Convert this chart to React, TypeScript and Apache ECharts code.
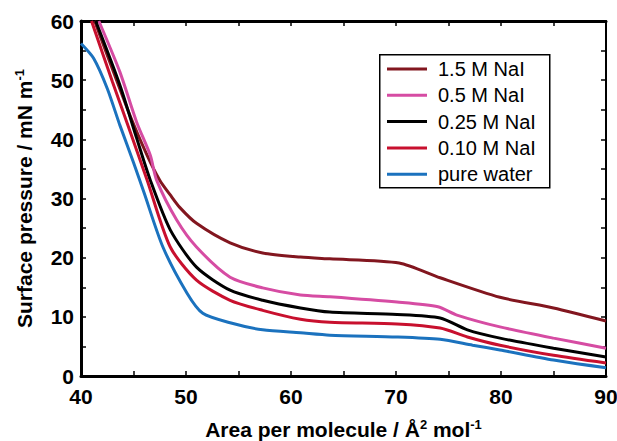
import React, { useEffect, useRef } from "react";
import * as echarts from "echarts";

const seriesNames = ["1.5 M NaI", "0.5 M NaI", "0.25 M NaI", "0.10 M NaI", "pure water"];
const seriesColors = ["#82161f", "#d64ca3", "#000000", "#c8102e", "#1b72be"];

const area15 = [41.3, 44.5, 46.3, 47.5, 48.5, 49.4, 51.0, 54.2, 57.3, 60.9, 63.7, 70.3, 74.2, 79.9, 85, 90];
const pressure15 = [60, 44.8, 37.3, 33.1, 30.6, 28.5, 25.8, 22.5, 20.8, 20.1, 19.8, 19.1, 16.6, 13.3, 11.5, 9.3];

const area05 = [41.7, 43.7, 45.3, 46.6, 47.2, 49.1, 51.0, 54.2, 57.3, 60.9, 63.7, 70.1, 74.0, 75.8, 79.9, 85, 90];
const pressure05 = [60, 51.4, 42.9, 37.3, 33.1, 26.4, 21.8, 16.7, 14.9, 13.7, 13.4, 12.5, 11.7, 10.3, 8.3, 6.4, 4.7];

const area025 = [41.4, 43.7, 45.3, 46.6, 48.5, 51.0, 54.2, 57.3, 60.9, 63.7, 70.1, 74.2, 76.8, 79.9, 85, 90];
const pressure025 = [60, 49.2, 40.2, 33.1, 24.7, 18.4, 14.5, 12.8, 11.5, 10.8, 10.4, 9.8, 7.8, 6.4, 4.7, 3.2];

const area010 = [41.0, 43.0, 44.7, 46.3, 48.5, 51.0, 54.2, 57.3, 60.9, 63.7, 70.1, 74.2, 76.8, 79.9, 85, 90];
const pressure010 = [60, 49.7, 41.2, 33.1, 21.8, 16.2, 12.8, 11.1, 9.6, 9.1, 8.8, 8.1, 6.6, 5.2, 3.5, 2.2];

const areaWater = [40, 41.2, 42.5, 43.7, 45.0, 46.0, 47.8, 50.1, 51.6, 54.2, 57.3, 60.9, 63.7, 70.1, 74.2, 77.3, 79.9, 85, 90];
const pressureWater = [56.2, 53.7, 48.6, 42.4, 36.1, 31.0, 21.8, 14.0, 10.6, 9.0, 7.8, 7.3, 6.9, 6.6, 6.2, 5.2, 4.4, 2.7, 1.4];

const xTicks = { min: 40, max: 90, interval: 10 };
const yTicks = { min: 0, max: 60, interval: 10 };

const seriesAreas = [area15, area05, area025, area010, areaWater];
const seriesPressures = [pressure15, pressure05, pressure025, pressure010, pressureWater];

const FONT = "'Liberation Sans', Arial, Helvetica, sans-serif";

export default function App() {
  const ref = useRef<HTMLDivElement>(null);
  useEffect(() => {
    if (!ref.current) return;
    const chart = echarts.init(ref.current, undefined, { renderer: "svg" });
    const axisLabel = { fontSize: 21, fontWeight: "bold", color: "#000", fontFamily: FONT };
    const tick = { show: true, inside: true, length: 5, lineStyle: { color: "#000", width: 1.5 } };
    const minor = { show: true, splitNumber: 2, length: 5, lineStyle: { color: "#000", width: 1.5 } };
    const nameRich = {
      b: { fontSize: 21, fontWeight: "bold", color: "#000", fontFamily: FONT, lineHeight: 23 },
      s: { fontSize: 13, fontWeight: "bold", color: "#000", fontFamily: FONT, verticalAlign: "top", lineHeight: 13 },
    };
    chart.setOption({
      animation: false,
      backgroundColor: "#fff",
      textStyle: { fontFamily: FONT },
      grid: { left: 81, right: 11, top: 21, bottom: 65, containLabel: false, outerBoundsMode: "none" },
      xAxis: [
        {
          type: "value",
          ...xTicks,
          position: "bottom",
          axisLine: { show: true, onZero: false, lineStyle: { color: "#000", width: 3 } },
          axisTick: tick,
          minorTick: minor,
          splitLine: { show: false },
          axisLabel: { ...axisLabel, margin: 10 },
          name: "{b|Area per molecule / Å}{s|2}{b| mol}{s|-1}",
          nameLocation: "middle",
          nameGap: 42,
          nameTextStyle: { rich: nameRich },
        },
        {
          type: "value",
          ...xTicks,
          position: "top",
          axisLine: { show: true, onZero: false, lineStyle: { color: "#000", width: 3 } },
          axisTick: tick,
          minorTick: minor,
          splitLine: { show: false },
          axisLabel: { show: false },
        },
      ],
      yAxis: [
        {
          type: "value",
          ...yTicks,
          position: "left",
          axisLine: { show: true, onZero: false, lineStyle: { color: "#000", width: 3 } },
          axisTick: tick,
          minorTick: minor,
          splitLine: { show: false },
          axisLabel: { ...axisLabel, margin: 7 },
          name: "{b|Surface pressure / mN m}{s|-1}",
          nameLocation: "middle",
          nameRotate: 90,
          nameGap: 45,
          nameTextStyle: { rich: nameRich },
        },
        {
          type: "value",
          ...yTicks,
          position: "right",
          axisLine: { show: true, onZero: false, lineStyle: { color: "#000", width: 2 } },
          axisTick: tick,
          minorTick: minor,
          splitLine: { show: false },
          axisLabel: { show: false },
        },
      ],
      legend: {
        data: seriesNames,
        orient: "vertical",
        left: 387,
        top: 59,
        padding: 0,
        icon: "rect",
        itemWidth: 40,
        itemHeight: 3,
        itemGap: 6.3,
        textStyle: { fontSize: 20, color: "#000", fontFamily: FONT, lineHeight: 20, padding: [0, 0, 0, 6] },
        z: 10,
      },
      graphic: [
        {
          type: "rect",
          left: 379,
          top: 54,
          z: 5,
          shape: { width: 170, height: 133 },
          style: { fill: "#fff", stroke: "#000", lineWidth: 1.5 },
        },
      ],
      series: seriesNames.map((name, i) => ({
        name,
        type: "line",
        xAxisIndex: 0,
        yAxisIndex: 0,
        data: seriesAreas[i].map((a, j) => [a, seriesPressures[i][j]]),
        showSymbol: false,
        symbol: "none",
        smooth: 0.25,
        clip: true,
        color: seriesColors[i],
        lineStyle: { color: seriesColors[i], width: 3 },
        z: 2 + i,
      })),
    });
    return () => chart.dispose();
  }, []);
  return <div ref={ref} style={{ position: "fixed", left: 0, top: 0, width: 617, height: 441 }} />;
}
